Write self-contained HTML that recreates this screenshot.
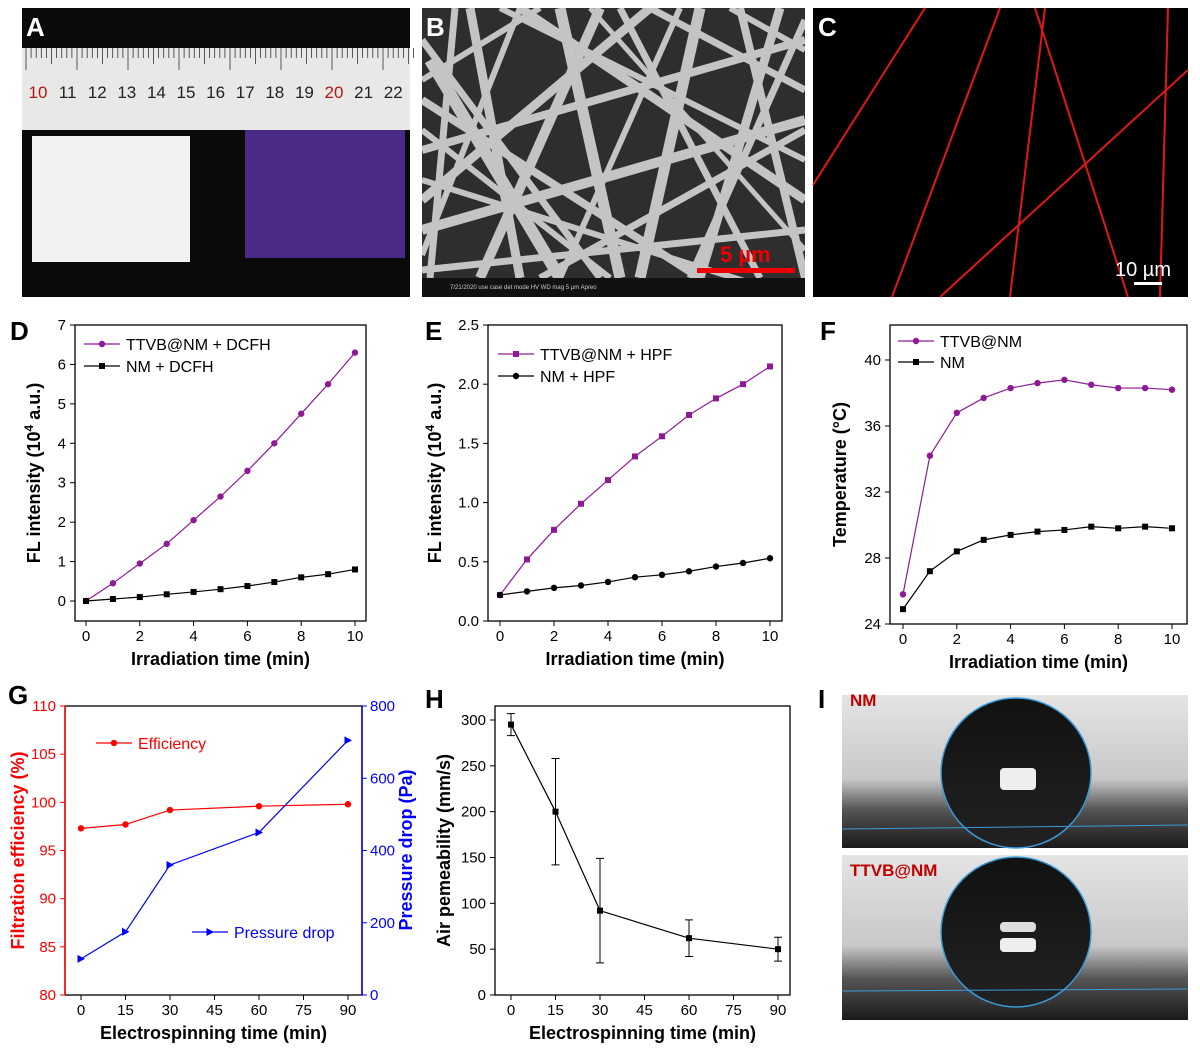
<!DOCTYPE html>
<html><head><meta charset="utf-8"><style>
body{margin:0;background:#fff;width:1200px;height:1049px;overflow:hidden;font-family:"Liberation Sans",Arial,sans-serif}
svg text{font-family:"Liberation Sans",Arial,sans-serif}
</style></head><body>
<svg id="fig" width="1200" height="1049" xmlns="http://www.w3.org/2000/svg">
<defs>
<linearGradient id="dropG" x1="0" y1="0" x2="0" y2="1"><stop offset="0" stop-color="#111"/><stop offset="1" stop-color="#222"/></linearGradient>
<linearGradient id="bgI" x1="0" y1="0" x2="0" y2="1"><stop offset="0" stop-color="#e4e4e4"/><stop offset="0.55" stop-color="#c8c8c8"/><stop offset="0.75" stop-color="#555"/><stop offset="1" stop-color="#1a1a1a"/></linearGradient>
<clipPath id="clipB"><rect x="422" y="8" width="383" height="289"/></clipPath>
</defs>
<g>
<rect x="22" y="8" width="388" height="289" fill="#0a0a0a"/>
<rect x="22" y="48" width="388" height="82" fill="#e8e8e6"/>
<g id="ruler"></g>
<rect x="32" y="136" width="158" height="126" fill="#f2f2f2"/>
<rect x="245" y="130" width="160" height="128" fill="#4b2a86"/>
<text x="26" y="36" font-size="26" font-weight="bold" fill="#fff">A</text>
</g>
<g>
<rect x="422" y="8" width="383" height="289" fill="#2e2e2e"/>
<g id="fibers" stroke="#c4c4c4" clip-path="url(#clipB)"></g>
<rect x="422" y="278" width="383" height="19" fill="#111"/>
<text x="450" y="289" font-size="6" fill="#ccc">7/21/2020  use case  det  mode  HV  WD  mag    5 µm   Apreo</text>
<rect x="697" y="268" width="98" height="5" fill="#e00"/>
<text x="720" y="262" font-size="22" font-weight="bold" fill="#e00">5 µm</text>
<text x="426" y="36" font-size="26" font-weight="bold" fill="#fff">B</text>
</g>
<g>
<rect x="813" y="8" width="375" height="289" fill="#000"/>
<g stroke="#e01818" stroke-width="2">
<line x1="813" y1="185" x2="925" y2="8"/><line x1="892" y1="297" x2="1000" y2="8"/>
<line x1="1010" y1="297" x2="1045" y2="8"/><line x1="1035" y1="8" x2="1128" y2="297"/>
<line x1="940" y1="297" x2="1188" y2="70"/><line x1="1160" y1="297" x2="1168" y2="8"/>
</g>
<text x="1115" y="276" font-size="20" fill="#fff">10 µm</text>
<rect x="1134" y="282" width="28" height="3" fill="#fff"/>
<text x="818" y="36" font-size="26" font-weight="bold" fill="#fff">C</text>
</g>
<g>
<rect x="842" y="695" width="346" height="153" fill="url(#bgI)"/>
<circle cx="1016" cy="773" r="75" fill="url(#dropG)" stroke="#3a9ad9" stroke-width="1.5"/>
<rect x="1000" y="768" width="36" height="22" fill="#eee" rx="4"/>
<line x1="842" y1="829" x2="1188" y2="825" stroke="#3a9ad9"/>
<rect x="842" y="855" width="346" height="165" fill="url(#bgI)"/>
<circle cx="1016" cy="932" r="75" fill="url(#dropG)" stroke="#3a9ad9" stroke-width="1.5"/>
<rect x="1000" y="922" width="36" height="10" fill="#ddd" rx="4"/><rect x="1000" y="938" width="36" height="14" fill="#eee" rx="4"/>
<line x1="842" y1="991" x2="1188" y2="989" stroke="#3a9ad9"/>
<text x="850" y="706" font-size="17" font-weight="bold" fill="#c00000">NM</text>
<text x="850" y="876" font-size="17" font-weight="bold" fill="#c00000">TTVB@NM</text>
<text x="818" y="708" font-size="26" font-weight="bold" fill="#000">I</text>
</g>
<g id="charts"></g>
</svg>
<script>
const timeD = [0,1,2,3,4,5,6,7,8,9,10];
const dTTVB = [0,0.45,0.95,1.45,2.05,2.65,3.3,4.0,4.75,5.5,6.3];
const dNM = [0,0.05,0.1,0.17,0.23,0.3,0.38,0.48,0.6,0.68,0.8];
const eTTVB = [0.22,0.52,0.77,0.99,1.19,1.39,1.56,1.74,1.88,2.0,2.15];
const eNM = [0.22,0.25,0.28,0.3,0.33,0.37,0.39,0.42,0.46,0.49,0.53];
const fTTVB = [25.8,34.2,36.8,37.7,38.3,38.6,38.8,38.5,38.3,38.3,38.2];
const fNM = [24.9,27.2,28.4,29.1,29.4,29.6,29.7,29.9,29.8,29.9,29.8];
const spinTime = [0,15,30,60,90];
const gEff = [97.3,97.7,99.2,99.6,99.8];
const gPress = [100,175,360,450,705];
const hPerm = [295,200,92,62,50];
const hErr = [12,58,57,20,13];
const ticksD = [0,1,2,3,4,5,6,7];
const ticksE = ["0.0","0.5","1.0","1.5","2.0","2.5"];
const ticksF = [24,28,32,36,40];
const ticksX10 = [0,2,4,6,8,10];
const ticksG = [80,85,90,95,100,105,110];
const ticksGR = [0,200,400,600,800];
const ticksX90 = [0,15,30,45,60,75,90];
const ticksH = [0,50,100,150,200,250,300];

const NS="http://www.w3.org/2000/svg";
const root=document.getElementById('charts');
function mk(tag,attrs,parent,txt){const e=document.createElementNS(NS,tag);for(const k in attrs)e.setAttribute(k,attrs[k]);if(txt!==undefined)e.textContent=txt;(parent||root).appendChild(e);return e;}
function scale(d0,d1,r0,r1){return v=>r0+(v-d0)*(r1-r0)/(d1-d0);}

(function(){
 const r=document.getElementById('ruler');
 for(let i=0;i<=76;i++){const x=26+i*5.1;mk('line',{x1:x,y1:48,x2:x,y2:48+(i%10==0?22:i%5==0?16:10),stroke:'#333','stroke-width':0.8},r);}
 for(let n=10;n<=22;n++){const t=mk('text',{x:38+(n-10)*29.6,y:98,'font-size':17,'text-anchor':'middle',fill:(n==10||n==20)?'#b01818':'#222'},r,String(n));
 
 }
 const f=document.getElementById('fibers');
 const L=[[430,60,560,278,12],[470,8,520,278,9],[560,8,620,278,11],[600,8,480,278,10],[700,8,640,278,11],[780,8,700,278,9],[422,150,805,40,8],[422,230,805,120,10],[422,100,700,278,8],[520,8,805,200,9],[650,8,805,90,7],[422,40,600,278,7],[740,8,805,278,8],[422,200,650,8,9],[455,8,430,278,7],[500,8,805,160,6],[422,270,805,230,7],[620,8,760,278,7],[680,8,560,278,6],[805,20,690,278,7],[422,80,540,8,6],[422,180,805,300,6],[730,8,805,50,6],[540,278,805,130,7],[422,130,610,278,6],[590,8,805,250,5],[422,255,520,8,6]];
 L.forEach(l=>mk('line',{x1:l[0],y1:l[1],x2:l[2],y2:l[3],'stroke-width':l[4]},f));
})();

function axes(o){
 const g=mk('g',{});
 
 
 mk('rect',{x:o.bx0,y:o.by0,width:o.bx1-o.bx0,height:o.by1-o.by0,fill:'none',stroke:'#000','stroke-width':1.3},g);
 o.xticks.forEach(t=>{const x=o.xs(+t);mk('line',{x1:x,y1:o.by1,x2:x,y2:o.by1+5,stroke:'#000'},g);
  const tx=mk('text',{x:x,y:o.by1+20,'font-size':15,'text-anchor':'middle'},g,String(t));
  
  });
 o.yticks.forEach(t=>{const y=o.ys(+t);mk('line',{x1:o.bx0-5,y1:y,x2:o.bx0,y2:y,stroke:o.lc||'#000'},g);
  const tx=mk('text',{x:o.bx0-9,y:y+5,'font-size':15,'text-anchor':'end',fill:o.lc||'#000'},g,String(t));
  
  });
 const xt=mk('text',{x:(o.bx0+o.bx1)/2,y:o.by1+44,'font-size':18,'font-weight':'bold','text-anchor':'middle'},g,o.xtitle);
 
 
 const yt=mk('text',{x:o.ytx,y:(o.by0+o.by1)/2,'font-size':18,'font-weight':'bold','text-anchor':'middle',fill:o.lc||'#000',transform:`rotate(-90 ${o.ytx} ${(o.by0+o.by1)/2})`},g);
 yt.innerHTML=o.ytitle;
 
 
 const pl=mk('text',{x:o.plx,y:o.ply,'font-size':26,'font-weight':'bold'},g,o.panel);
 
 
 return g;
}
function series(g,xsv,ysv,xs,ys,color,marker,name){
 const pts=xsv.map((v,i)=>[xs(v),ys(ysv[i])]);
 const p=mk('polyline',{points:pts.map(p=>p.join(',')).join(' '),fill:'none',stroke:color,'stroke-width':1.2},g);
 
 
 pts.forEach(q=>drawMarker(g,q[0],q[1],color,marker,name));
}
function drawMarker(g,x,y,color,marker,name){
 let m;
 if(marker=='c')m=mk('circle',{cx:x,cy:y,r:3.2,fill:color},g);
 else if(marker=='s')m=mk('rect',{x:x-3,y:y-3,width:6,height:6,fill:color},g);
 else m=mk('polygon',{points:`${x-3.5},${y-4} ${x+4},${y} ${x-3.5},${y+4}`,fill:color},g);
 
 
}
function legend(g,x,y,color,marker,label,tc){
 mk('line',{x1:x,y1:y,x2:x+36,y2:y,stroke:color,'stroke-width':1.2},g);
 drawMarker(g,x+18,y,color,marker,'legend');
 const t=mk('text',{x:x+42,y:y+6,'font-size':16,fill:tc||'#000'},g,label);
 
 
}
const PUR='#8e1a96';
{const xs=scale(0,10,86,355),ys=scale(0,7,601,325);
 const g=axes({name:'chart-d',bx0:75,bx1:366,by0:325,by1:621,xs,ys,xticks:ticksX10,yticks:ticksD,xtitle:'Irradiation time (min)',ytitle:'FL intensity (10<tspan baseline-shift="super" font-size="12">4</tspan> a.u.)',ytx:40,plx:10,ply:340,panel:'D'});
 series(g,timeD,dTTVB,xs,ys,PUR,'c','ttvb-dcfh');series(g,timeD,dNM,xs,ys,'#000','s','nm-dcfh');
 legend(g,84,344,PUR,'c','TTVB@NM + DCFH');legend(g,84,366,'#000','s','NM + DCFH');}
{const xs=scale(0,10,500,770),ys=scale(0,2.5,621,325);
 const g=axes({name:'chart-e',bx0:488,bx1:782,by0:325,by1:621,xs,ys,xticks:ticksX10,yticks:ticksE,xtitle:'Irradiation time (min)',ytitle:'FL intensity (10<tspan baseline-shift="super" font-size="12">4</tspan> a.u.)',ytx:441,plx:425,ply:340,panel:'E'});
 series(g,timeD,eTTVB,xs,ys,PUR,'s','ttvb-hpf');series(g,timeD,eNM,xs,ys,'#000','c','nm-hpf');
 legend(g,498,354,PUR,'s','TTVB@NM + HPF');legend(g,498,376,'#000','c','NM + HPF');}
{const xs=scale(0,10,903,1172),ys=scale(24,40,624,360);
 const g=axes({name:'chart-f',bx0:890,bx1:1187,by0:325,by1:624,xs,ys,xticks:ticksX10,yticks:ticksF,xtitle:'Irradiation time (min)',ytitle:'Temperature (°C)',ytx:846,plx:820,ply:340,panel:'F'});
 series(g,timeD,fTTVB,xs,ys,PUR,'c','ttvb-temp');series(g,timeD,fNM,xs,ys,'#000','s','nm-temp');
 legend(g,898,341,PUR,'c','TTVB@NM');legend(g,898,362,'#000','s','NM');}
{const xs=scale(0,90,81,348),ys=scale(80,110,995,706),ys2=scale(0,800,995,706);
 const g=axes({name:'chart-g',bx0:65,bx1:362,by0:706,by1:995,xs,ys,xticks:ticksX90,yticks:ticksG,xtitle:'Electrospinning time (min)',ytitle:'Filtration efficiency (%)',ytx:24,plx:8,ply:704,panel:'G',lc:'#f00'});
 mk('line',{x1:65,y1:706,x2:65,y2:995,stroke:'#f00','stroke-width':1.5},g);
 mk('line',{x1:362,y1:706,x2:362,y2:995,stroke:'#00f','stroke-width':1.5},g);
 ticksGR.forEach(t=>{const y=ys2(t);mk('line',{x1:362,y1:y,x2:367,y2:y,stroke:'#00f'},g);
  const tx=mk('text',{x:370,y:y+5,'font-size':15,fill:'#00f'},g,String(t));
  
  });
 const yt=mk('text',{x:412,y:850,'font-size':18,'font-weight':'bold','text-anchor':'middle',fill:'#00f',transform:'rotate(-90 412 850)'},g,'Pressure drop (Pa)');
 
 
 series(g,spinTime,gEff,xs,ys,'#f00','c','efficiency');series(g,spinTime,gPress,xs,ys2,'#00f','t','pressure-drop');
 legend(g,96,743,'#f00','c','Efficiency','#f00');legend(g,192,932,'#00f','t','Pressure drop','#00f');}
{const xs=scale(0,90,511,778),ys=scale(0,300,995,720);
 const g=axes({name:'chart-h',bx0:495,bx1:790,by0:706,by1:995,xs,ys,xticks:ticksX90,yticks:ticksH,xtitle:'Electrospinning time (min)',ytitle:'Air pemeability (mm/s)',ytx:450,plx:425,ply:708,panel:'H'});
 spinTime.forEach((t,i)=>{const x=xs(t),a=ys(hPerm[i]+hErr[i]),b=ys(hPerm[i]-hErr[i]);
  const e=mk('path',{d:`M${x},${a}V${b}M${x-4},${a}H${x+4}M${x-4},${b}H${x+4}`,stroke:'#000',fill:'none'},g);
  
  });
 series(g,spinTime,hPerm,xs,ys,'#000','s','air-permeability');}
</script>
</body></html>
